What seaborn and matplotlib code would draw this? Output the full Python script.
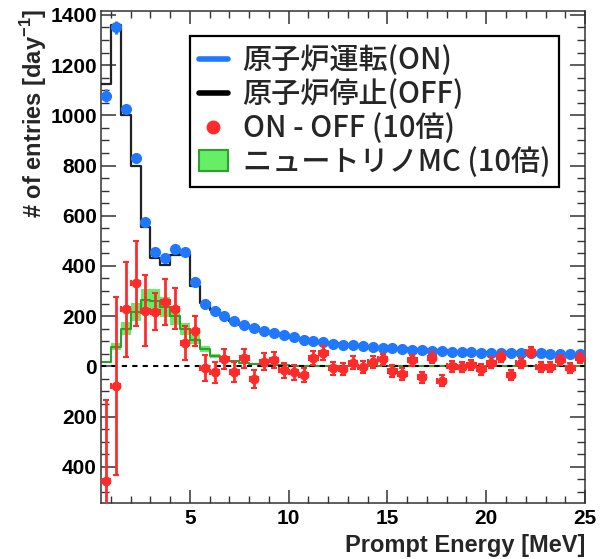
import numpy as np
import pandas as pd
import seaborn as sns
import matplotlib.pyplot as plt
from matplotlib.lines import Line2D
from matplotlib.patches import Patch
from matplotlib.ticker import MultipleLocator, FixedLocator, FuncFormatter

# binning (0.5 MeV bins from 0.5 to 25 MeV)
edges = np.arange(0.5, 25.01, 0.5)
centers = (edges[:-1] + edges[1:]) / 2

# reactor ON rate [day^-1]
on_rate = [1078, 1350, 1026, 831, 577, 455, 430, 466, 457, 335,
           250, 221, 201, 180, 166, 153, 142, 133, 124, 116,
           105, 100, 97, 90, 86, 83, 80, 77, 74, 72,
           69, 66, 64, 63, 60, 58, 57, 56, 55, 55,
           54, 53, 53, 52, 52, 51, 51, 50, 50]
on_err = [25, 25, 16, 13, 10, 9, 9, 9, 9, 7,
          6, 5, 5, 4, 4, 4, 4, 3, 3, 3,
          3, 3, 3, 3, 3, 3, 2, 2, 2, 2,
          2, 2, 2, 2, 2, 2, 2, 2, 2, 2,
          2, 2, 2, 2, 2, 2, 2, 2, 2]

# reactor OFF rate [day^-1]
off_rate = [1125, 1358, 1003, 798, 555, 433, 404, 443, 448, 321,
            251, 223, 198, 182, 163, 158, 140, 131, 126, 118,
            109, 97, 92, 91, 87, 82, 80, 75, 71, 74,
            72, 64, 68, 60, 66, 58, 57, 55, 56, 54,
            50, 57, 52, 46, 52, 51, 48, 51, 46]

# ON - OFF (x10)
diff10 = [-458, -78, 227, 330, 222, 218, 256, 230, 92, 142,
          -7, -23, 30, -22, 32, -50, 18, 24, -16, -24,
          -35, 34, 52, -8, -10, 15, -2, 16, 28, -18,
          -31, 25, -43, 35, -58, 0, -2, 5, -12, 15,
          38, -36, 12, 56, -4, -4, 25, -6, 35]
diff10_err = [325, 355, 190, 170, 140, 75, 90, 83, 67, 60,
              53, 42, 40, 40, 38, 36, 34, 32, 30, 30,
              28, 28, 27, 26, 25, 25, 24, 24, 23, 23,
              23, 22, 22, 22, 22, 21, 21, 21, 21, 21,
              20, 20, 20, 20, 20, 20, 20, 20, 20]

# neutrino MC (x10)
mc10 = [18, 78, 150, 215, 265, 262, 235, 200, 148, 105,
        68, 42, 28, 20, 14, 10, 7, 5, 4, 3,
        2, 2, 1, 1, 1, 1, 0, 0, 0, 0,
        0, 0, 0, 0, 0, 0, 0, 0, 0, 0,
        0, 0, 0, 0, 0, 0, 0, 0, 0]
mc10_err = [4, 14, 26, 36, 45, 45, 40, 34, 25, 18,
            12, 7, 5, 3, 2, 2, 1, 1, 1, 0,
            0, 0, 0, 0, 0, 0, 0, 0, 0, 0,
            0, 0, 0, 0, 0, 0, 0, 0, 0, 0,
            0, 0, 0, 0, 0, 0, 0, 0, 0]

legend_labels = ['原子炉運転(ON)', '原子炉停止(OFF)', 'ON - OFF (10倍)', 'ニュートリノMC (10倍)']

df = pd.DataFrame({'E': centers, 'off': off_rate, 'mc': mc10})

sns.set_style('ticks')
plt.rcParams['font.family'] = ['Liberation Sans', 'Noto Sans CJK JP', 'DejaVu Sans']
plt.rcParams['mathtext.fontset'] = 'custom'
plt.rcParams['mathtext.rm'] = 'Liberation Sans'
plt.rcParams['mathtext.bf'] = 'Liberation Sans:bold'

blue = '#1f78ff'
red = '#ff2b2b'
green_fill = '#66ee66'
green_line = '#2ea02e'

fig = plt.figure(figsize=(6.07, 5.59), dpi=100)
ax = fig.add_axes([0.1664, 0.100, 0.7974, 0.880])

mc_arr = np.array(mc10)
mc_e = np.array(mc10_err)
ax.stairs(mc_arr + mc_e, edges, baseline=mc_arr - mc_e, fill=True,
          color=green_fill, alpha=1.0, zorder=1, linewidth=0)
sns.histplot(data=df, x='E', weights='mc', binwidth=0.5, binrange=(0.5, 25),
             element='step', fill=False, color=green_line, linewidth=1.5, ax=ax, zorder=2)

ax.axhline(0, color='black', linestyle=(0, (2.5, 2.5)), linewidth=1.5, zorder=2.5)

sns.histplot(data=df, x='E', weights='off', binwidth=0.5, binrange=(0.5, 25),
             element='step', fill=False, color='#222222', linewidth=1.6, ax=ax, zorder=3)

ax.errorbar(centers, on_rate, xerr=0.25, yerr=on_err, fmt='o', color=blue,
            ms=7, elinewidth=2.2, capsize=0, zorder=4)
ax.errorbar(centers, diff10, xerr=0.22, yerr=diff10_err, fmt='o', color=red,
            ms=6, elinewidth=2.0, capsize=2, capthick=1.5, zorder=5)

ax.set_xlim(0.5, 25)
ax.set_ylim(-545, 1415)

ax.xaxis.set_major_locator(FixedLocator([5, 10, 15, 20, 25]))
ax.xaxis.set_minor_locator(MultipleLocator(1))
ax.yaxis.set_major_locator(FixedLocator([-400, -200, 0, 200, 400, 600, 800, 1000, 1200, 1400]))
ax.yaxis.set_minor_locator(MultipleLocator(50))
ax.yaxis.set_major_formatter(FuncFormatter(lambda v, p: f'{abs(int(v))}'))

ax.tick_params(which='both', direction='in', top=True, right=True, colors='#333333')
ax.tick_params(axis='y', which='major', length=11, width=1.1, pad=3)
ax.tick_params(axis='y', which='minor', length=6, width=1.0)
ax.tick_params(axis='x', which='major', length=9.5, width=1.1, pad=4)
ax.tick_params(axis='x', which='minor', length=5, width=1.0)
for lab in ax.get_xticklabels() + ax.get_yticklabels():
    lab.set_fontweight('bold')
    lab.set_fontsize(15)
    lab.set_color('black')
for s in ax.spines.values():
    s.set_color('#333333')
    s.set_linewidth(1.1)

ax.set_xlabel('Prompt Energy [MeV]', fontsize=17, fontweight='bold', loc='right')
ax.set_ylabel('# of entries [day$^{\\mathbf{-1}}$]', fontsize=17, fontweight='bold', loc='top')
ax.xaxis.set_label_coords(1.0, -0.062)
ax.yaxis.set_label_coords(-0.108, 1.005)

handles = [Line2D([], [], color=blue, linewidth=4),
           Line2D([], [], color='black', linewidth=4),
           Line2D([], [], color=red, marker='o', linestyle='none', markersize=9),
           Patch(facecolor=green_fill, edgecolor=green_line, linewidth=1.5)]
leg = ax.legend(handles, legend_labels, loc='upper left', bbox_to_anchor=(0.184, 0.949),
                prop={'family': ['Noto Sans CJK JP', 'DejaVu Sans'], 'size': 21, 'weight': 'medium'},
                frameon=True, fancybox=False, edgecolor='black', framealpha=1,
                handlelength=1.0, handletextpad=0.5, labelspacing=0.1,
                borderpad=0.3, borderaxespad=0)
leg.get_frame().set_linewidth(1.6)

fig.savefig('out.png', dpi=100)
